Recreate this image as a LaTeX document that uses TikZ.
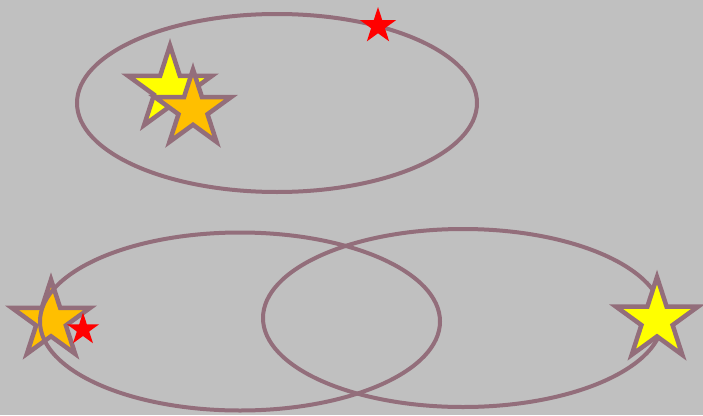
\documentclass[tikz,border=0pt]{standalone}
\usetikzlibrary{shapes.geometric}
\definecolor{bg}{HTML}{C0C0C0}
\definecolor{edge}{HTML}{936E7B}
\definecolor{sunyellow}{HTML}{FFFF00}
\definecolor{amber}{HTML}{FFBF00}
\definecolor{redstar}{HTML}{FF0000}
\tikzset{
  ring/.style={draw=edge, line width=4pt},
  bigstar/.style={star, star points=5, star point ratio=2.618, draw=edge, line width=4.5pt, inner sep=0pt, outer sep=0pt, minimum size=#1},
  smallstar/.style={star, star points=5, star point ratio=2.618, fill=redstar, draw=none, inner sep=0pt, outer sep=0pt, minimum size=#1},
}
\begin{document}
\begin{tikzpicture}[x=1pt,y=-1pt]
\fill[bg] (0,0) rectangle (703,415);
\useasboundingbox (0,0) rectangle (703,415);
% star under the ellipse
\node[bigstar=82pt, fill=amber] (s3) at (51,320.6) {};
% ellipses
\draw[ring] (277,103) ellipse [x radius=200, y radius=89];
\draw[ring] (240,321.5) ellipse [x radius=200, y radius=89];
\draw[ring] (463,318) ellipse [x radius=200, y radius=89];
% stars above
\node[bigstar=88pt, fill=sunyellow] (s1) at (170,89.5) {};
\node[bigstar=80pt, fill=amber] (s2) at (193,109.5) {};
\node[bigstar=86pt, fill=sunyellow] (s4) at (657,320) {};
\node[smallstar=34pt] (r1) at (83,329.5) {};
\node[smallstar=38pt] (r2) at (378,26) {};
\end{tikzpicture}
\end{document}
